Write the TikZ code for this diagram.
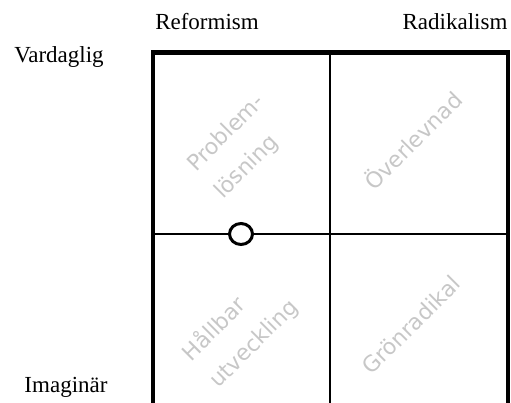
\documentclass[tikz,border=0pt]{standalone}
\usepackage{fontspec}
\usetikzlibrary{shapes.geometric}
\setmainfont{Liberation Serif}
\newfontfamily\quadfont{DejaVu Sans}
\begin{document}
\begin{tikzpicture}[x=1pt,y=-1pt,
  axislabel/.style={font=\fontsize{23}{26}\selectfont, inner sep=0pt, anchor=base},
  quadlabel/.style={font=\quadfont\fontsize{22}{38}\selectfont, text=black!22, rotate=45, align=left, inner sep=0pt},
  outer/.style={line width=4.5pt},
  inner/.style={line width=2pt},
  marker/.style={draw, line width=3pt, fill=white, ellipse, minimum width=23pt, minimum height=21pt, inner sep=0pt}]
\useasboundingbox (0,0) rectangle (511,403);
% corner coordinates of the grid
\coordinate (tl) at (153,52.5);
\coordinate (tr) at (508,52.5);
\coordinate (bl) at (153,410);
\coordinate (br) at (508,410);
\coordinate (mt) at (330,52.5);
\coordinate (mb) at (330,410);
\coordinate (ml) at (153,234);
\coordinate (mr) at (508,234);
\begin{scope}
\clip (0,0) rectangle (511,403);
\draw[inner] (mt) -- (mb);
\draw[inner] (ml) -- (mr);
\draw[outer] (bl) -- (tl) -- (tr) -- (br);
\end{scope}
% axis labels
\node[axislabel] (reform) at (207,30) {Reformism};
\node[axislabel] (radik) at (455,30) {Radikalism};
\node[axislabel] (vard) at (59,63) {Vardaglig};
\node[axislabel] (imag) at (66,392) {Imaginär};
% quadrant labels
\node[quadlabel] (q1) at (240,147) {Problem-\\lösning};
\node[quadlabel] (q2) at (412,140) {Överlevnad};
\node[quadlabel] (q3) at (240,330) {Hållbar\\utveckling};
\node[quadlabel] (q4) at (411,325) {Grönradikal};
% marker
\node[marker] (pt) at (241,234) {};
\end{tikzpicture}
\end{document}
